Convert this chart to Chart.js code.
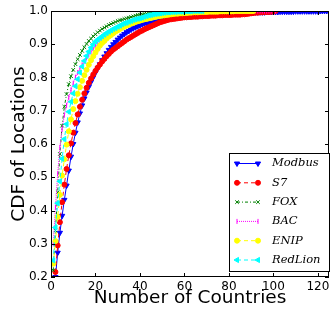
<!DOCTYPE html>
<html>
<head>
<meta charset="utf-8">
<script src="https://cdn.jsdelivr.net/npm/chart.js@4.4.0/dist/chart.umd.min.js"></script>
<style>
html, body { margin: 0; padding: 0; background: #fff; }
canvas { display: block; }
</style>
</head>
<body>
<canvas id="myChart" width="334" height="320"></canvas>
<script>
// x values: number of countries
const countries = [1,2,3,4,5,6,7,8,9,10,11,12,13,14,15,16,17,18,19,20,
  21,22,23,24,25,26,27,28,29,30,31,32,33,34,35,36,37,38,39,40,
  41,42,43,44,45,46,47,48,49,50,51,52,53,54,55,56,57,58,59,60,
  61,62,63,64,65,66,67,68,69,70,71,72,73,74,75,76,77,78,79,80,
  81,82,83,84,85,86,87,88,89,90,91,92,93,94,95,96,97,98,99,100,
  101,102,103,104,105,106,107,108,109,110,111,112,113,114,115,116,117,118,119,120,
  121,122,123,124,125];

// CDF of locations per protocol
const modbus = [0.12,0.2,0.273,0.333,0.384,0.432,0.475,0.52,0.562,0.6,
  0.634,0.665,0.692,0.716,0.737,0.755,0.772,0.787,0.801,0.815,
  0.828,0.84,0.852,0.863,0.873,0.883,0.892,0.9,0.907,0.914,
  0.92,0.926,0.931,0.936,0.94,0.944,0.948,0.951,0.954,0.957,
  0.96,0.962,0.964,0.966,0.968,0.97,0.972,0.973,0.975,0.976,
  0.978,0.979,0.98,0.981,0.981,0.982,0.983,0.983,0.984,0.984,
  0.985,0.986,0.986,0.987,0.987,0.987,0.988,0.988,0.989,0.989,
  0.989,0.99,0.99,0.99,0.991,0.991,0.991,0.991,0.992,0.992,
  0.992,0.993,0.993,0.993,0.994,0.994,0.994,0.995,0.995,0.995,
  0.995,0.996,0.996,0.996,0.996,0.996,0.997,0.997,0.997,0.997,
  0.997,0.997,0.998,0.998,0.998,0.998,0.998,0.998,0.998,0.999,
  0.999,0.999,0.999,0.999,0.999,0.999,0.999,0.999,0.999,0.999,
  1,1,1,1,1];
const s7 = [0.13,0.215,0.295,0.365,0.425,0.478,0.525,0.566,0.602,0.634,
  0.663,0.689,0.712,0.733,0.752,0.769,0.784,0.797,0.809,0.82,
  0.83,0.839,0.848,0.856,0.864,0.871,0.878,0.884,0.889,0.894,
  0.899,0.904,0.909,0.914,0.918,0.922,0.926,0.93,0.934,0.938,
  0.941,0.945,0.948,0.951,0.954,0.957,0.96,0.963,0.966,0.968,
  0.97,0.972,0.974,0.975,0.976,0.977,0.978,0.979,0.98,0.981,
  0.981,0.982,0.982,0.983,0.983,0.983,0.984,0.984,0.985,0.985,
  0.985,0.986,0.986,0.986,0.987,0.987,0.987,0.988,0.988,0.988,
  0.988,0.989,0.989,0.989,0.989,0.99,0.99,0.991,0.992,0.993,
  0.994,0.995,0.995,0.996,0.996,0.997,0.997,0.997,0.998,0.998,
  1];
const fox = [0.22,0.34,0.455,0.57,0.655,0.712,0.75,0.78,0.804,0.823,
  0.84,0.855,0.868,0.88,0.891,0.901,0.91,0.917,0.924,0.93,
  0.936,0.941,0.946,0.95,0.954,0.958,0.961,0.964,0.967,0.97,
  0.972,0.974,0.976,0.978,0.98,0.982,0.984,0.986,0.988,0.989,
  0.99,0.991,0.992,0.993,0.994,0.995,0.996,0.996,0.997,0.997,
  0.998,0.998,0.999,0.999,1];
const bac = [0.3,0.41,0.51,0.59,0.645,0.687,0.716,0.74,0.763,0.783,
  0.801,0.815,0.827,0.838,0.849,0.859,0.868,0.877,0.885,0.893,
  0.9,0.907,0.913,0.919,0.924,0.929,0.934,0.938,0.943,0.946,
  0.95,0.953,0.956,0.959,0.962,0.964,0.966,0.968,0.97,0.972,
  0.974,0.976,0.977,0.979,0.98,0.982,0.983,0.985,0.986,0.988,
  0.989,0.99,0.991,0.992,0.992,0.993,0.994,0.994,0.995,0.995,
  0.996,0.996,0.996,0.997,0.997,0.997,0.997,0.998,0.998,0.998,
  0.998,0.998,0.999,0.999,0.999,0.999,0.999,0.999,0.999,0.999,
  0.999,0.999,0.999,0.999,0.999,1,1,1,1,1,
  1,1,1,1,1,1,1,1,1,1,
  1];
const enip = [0.24,0.308,0.381,0.447,0.505,0.554,0.598,0.638,0.674,0.705,
  0.729,0.751,0.771,0.79,0.807,0.823,0.838,0.852,0.864,0.875,
  0.886,0.896,0.904,0.91,0.917,0.923,0.928,0.933,0.938,0.942,
  0.946,0.95,0.953,0.956,0.959,0.962,0.964,0.967,0.969,0.971,
  0.973,0.975,0.976,0.978,0.979,0.981,0.982,0.984,0.985,0.986,
  0.987,0.988,0.989,0.99,0.991,0.992,0.992,0.993,0.993,0.994,
  0.994,0.995,0.995,0.996,0.996,0.996,0.997,0.997,0.997,0.997,
  0.998,0.998,0.998,0.998,0.998,0.999,0.999,0.999,0.999,0.999,
  0.999,0.999,1,1,1,1,1,1,1,1,
  1];
const redlion = [0.25,0.349,0.422,0.488,0.556,0.615,0.66,0.697,0.727,0.752,
  0.774,0.795,0.815,0.833,0.85,0.865,0.878,0.89,0.9,0.908,
  0.914,0.919,0.924,0.929,0.934,0.938,0.942,0.946,0.949,0.953,
  0.956,0.96,0.963,0.965,0.968,0.97,0.973,0.975,0.977,0.978,
  0.98,0.983,0.985,0.987,0.988,0.99,0.991,0.992,0.993,0.994,
  0.995,0.996,0.996,0.997,0.997,0.997,0.998,0.998,0.998,0.999,
  0.999,0.999,0.999,1,1,1,1,1];

const protocols = ['Modbus', 'S7', 'FOX', 'BAC', 'ENIP', 'RedLion'];
const xTicks = [0, 20, 40, 60, 80, 100, 120];
const yTicks = [0.2, 0.3, 0.4, 0.5, 0.6, 0.7, 0.8, 0.9, 1.0];

// matplotlib-like styles
const series = [modbus, s7, fox, bac, enip, redlion];
const colors = ['#0000ff', '#ff0000', '#008000', '#ff00ff', '#ffff00', '#00ffff'];
const dashes = [[], [4, 3], [3, 2, 1, 2], [1, 1], [4, 3], [4, 3]];
const markers = ['triangle', 'circle', 'crossRot', 'line', 'circle', 'triangle'];
const markerRot = [180, 0, 0, 90, 0, 270];
const markerSize = [3, 2.5, 2.5, 2.5, 2.5, 3];

Chart.defaults.font.family = 'DejaVu Sans';
Chart.defaults.color = '#000';

// inward ticks on all four sides + frame, then the legend box
const frameAndLegend = {
  id: 'frameAndLegend',
  afterDatasetsDraw(chart) {
    const ctx = chart.ctx;
    const a = chart.chartArea;
    const xs = chart.scales.x, ys = chart.scales.y;
    ctx.save();
    ctx.strokeStyle = '#000';
    ctx.lineWidth = 1;
    ctx.beginPath();
    for (const t of xs.ticks) {
      const px = Math.round(xs.getPixelForValue(t.value)) + 0.5;
      ctx.moveTo(px, a.bottom); ctx.lineTo(px, a.bottom - 4);
      ctx.moveTo(px, a.top); ctx.lineTo(px, a.top + 4);
    }
    for (const t of ys.ticks) {
      const py = Math.round(ys.getPixelForValue(t.value)) + 0.5;
      ctx.moveTo(a.left, py); ctx.lineTo(a.left + 4, py);
      ctx.moveTo(a.right, py); ctx.lineTo(a.right - 4, py);
    }
    ctx.stroke();
    ctx.strokeRect(Math.round(a.left) + 0.5, Math.round(a.top) + 0.5,
      Math.round(a.right - a.left) - 1, Math.round(a.bottom - a.top) - 1);
    ctx.restore();
  },
  afterDraw(chart) {
    const ctx = chart.ctx;
    ctx.save();
    ctx.fillStyle = '#fff';
    ctx.fillRect(229.5, 153.5, 100, 118);
    ctx.strokeStyle = '#000';
    ctx.lineWidth = 1;
    ctx.strokeRect(229.5, 153.5, 100, 118);
    chart.data.datasets.forEach((ds, i) => {
      const y = 163.5 + i * 19.3;
      ctx.strokeStyle = ds.borderColor;
      ctx.lineWidth = ds.borderWidth;
      ctx.setLineDash(ds.borderDash);
      ctx.beginPath(); ctx.moveTo(237, y); ctx.lineTo(258, y); ctx.stroke();
      ctx.setLineDash([]);
      ctx.fillStyle = ds.pointBackgroundColor;
      ctx.strokeStyle = ds.pointBorderColor;
      ctx.lineWidth = ds.pointBorderWidth;
      const opts = { pointStyle: ds.pointStyle, rotation: ds.pointRotation,
        radius: ds.pointRadius, borderWidth: ds.pointBorderWidth };
      Chart.helpers.drawPoint(ctx, opts, 237, y);
      Chart.helpers.drawPoint(ctx, opts, 258, y);
      ctx.fillStyle = '#000';
      ctx.font = 'italic 11.5px "DejaVu Serif"';
      ctx.textBaseline = 'middle';
      ctx.textAlign = 'left';
      ctx.fillText(ds.label, 272, y);
    });
    ctx.restore();
  }
};

const datasets = protocols.map((name, i) => ({
  label: name,
  data: series[i],
  borderColor: colors[i],
  backgroundColor: colors[i],
  borderWidth: 1,
  borderDash: dashes[i],
  pointStyle: markers[i],
  pointRotation: markerRot[i],
  pointRadius: markerSize[i],
  pointBackgroundColor: colors[i],
  pointBorderColor: colors[i],
  pointBorderWidth: 1,
  tension: 0,
  fill: false,
  clip: 0,
  order: protocols.length - i
}));

new Chart(document.getElementById('myChart'), {
  type: 'line',
  data: { labels: countries, datasets: datasets },
  options: {
    responsive: false,
    animation: false,
    devicePixelRatio: 1,
    layout: { padding: { top: 11, right: 3, left: 0, bottom: 0 } },
    plugins: { legend: { display: false }, tooltip: { enabled: false } },
    scales: {
      x: {
        type: 'linear',
        min: 0, max: 125,
        grid: { display: false, drawTicks: false },
        border: { display: false },
        afterBuildTicks: s => { s.ticks = xTicks.map(v => ({ value: v })); },
        afterFit: s => { s.height = 43; },
        ticks: { font: { size: 12 }, padding: 3, maxRotation: 0, callback: v => String(v) },
        title: { display: true, text: 'Number of Countries', font: { size: 18.5 },
          padding: { top: 0, bottom: 11 } }
      },
      y: {
        min: 0.2, max: 1.0,
        grid: { display: false, drawTicks: false },
        border: { display: false },
        afterBuildTicks: s => { s.ticks = yTicks.map(v => ({ value: v })); },
        afterFit: s => { s.width = 51; },
        ticks: { font: { size: 12 }, padding: 3, callback: v => v.toFixed(1) },
        title: { display: true, text: 'CDF of Locations', font: { size: 18.5 },
          padding: { top: 8, bottom: 0 } }
      }
    }
  },
  plugins: [frameAndLegend]
});
</script>
</body>
</html>
